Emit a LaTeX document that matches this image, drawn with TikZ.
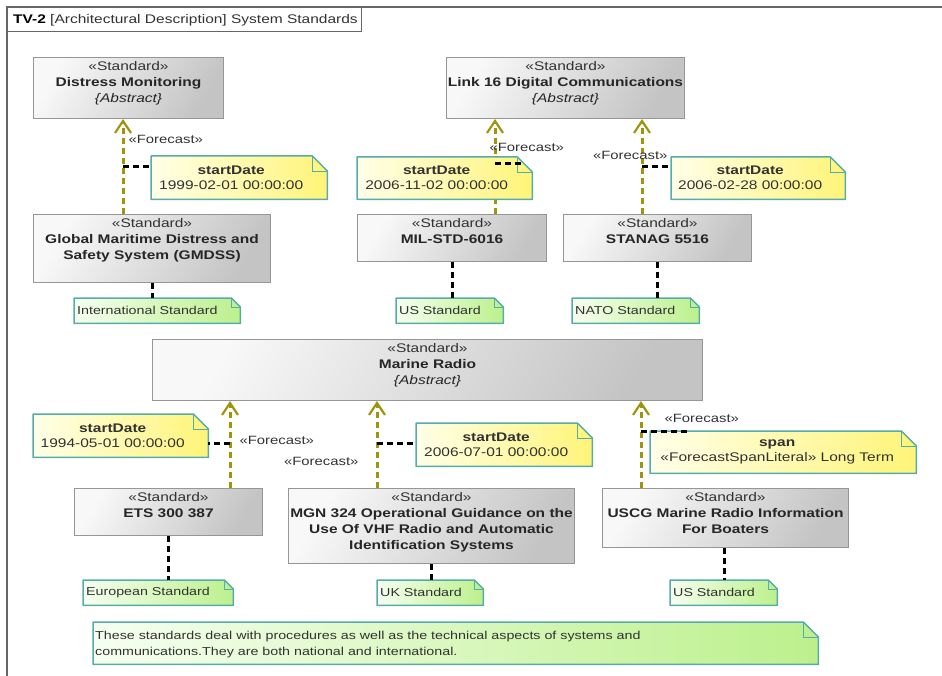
\documentclass[tikz,border=0pt]{standalone}
\usepackage{fontspec}
\setmainfont{Liberation Sans}[FakeStretch=1.24]
\usetikzlibrary{arrows.meta,calc}

\definecolor{olivefc}{RGB}{160,148,10}
\definecolor{tealb}{RGB}{86,172,170}
\definecolor{boxb}{RGB}{150,150,150}
\definecolor{boxl}{RGB}{248,248,248}
\definecolor{boxr}{RGB}{196,196,196}
\definecolor{yell}{RGB}{255,255,232}
\definecolor{yelr}{RGB}{255,244,120}
\definecolor{grnl}{RGB}{246,255,240}
\definecolor{grnr}{RGB}{188,240,140}
\definecolor{txt}{RGB}{50,50,50}

\newcommand\notebody[3]{%
  \shade[#3] (#1.south west) -- (#1.north west) -- ([xshift=-#2pt]#1.north east) -- ([yshift=-#2pt]#1.north east) -- (#1.south east) -- cycle;
  \draw[tealb, line width=1.5pt, line join=round] (#1.south west) -- (#1.north west) -- ([xshift=-#2pt]#1.north east) -- ([yshift=-#2pt]#1.north east) -- (#1.south east) -- cycle;
  \draw[tealb, line width=0.8pt] ([xshift=-#2pt]#1.north east) |- ([yshift=-#2pt]#1.north east);
}
\newcommand\stdst{{\color{txt}«Standard»}}

\tikzset{
  stdbox/.style={draw=boxb, line width=1pt, left color=boxl, right color=boxr, shading angle=60, anchor=north west, inner sep=0pt},
  shapenode/.style={anchor=north west, inner sep=0pt},
  boxtxt/.style={anchor=north, inner sep=0pt, align=center, font=\fontsize{12.5}{16}\selectfont, text=black!85},
  notetxt/.style={inner sep=0pt, align=center, font=\fontsize{12.5}{15}\selectfont, text=txt},
  grntxt/.style={inner sep=0pt, anchor=west, align=left, font=\fontsize{11.5}{16}\selectfont, text=txt},
  fcarrow/.style={draw=olivefc, line width=3pt, dash pattern=on 6pt off 4pt, -{Straight Barb[length=12pt,width=16pt,line width=2.2pt]}},
  fclab/.style={inner sep=1pt, font=\fontsize{12}{14}\selectfont, text=txt},
  blkdash/.style={draw=black, line width=3pt, dash pattern=on 6pt off 4pt},
  yfill/.style={left color=yell, right color=yelr},
  gfill/.style={left color=grnl, right color=grnr},
}

\begin{document}
\begin{tikzpicture}[x=1pt, y=-1pt]
\useasboundingbox (0,0) rectangle (942,676);

% frame
\draw[black!60, line width=1.5pt] (7,676) -- (7,7) -- (942,7);
\draw[black!60, line width=1pt] (7,32) -- (361,32) -- (361,7);
\node[anchor=west, inner sep=0pt, font=\fontsize{12.5}{15}\selectfont, text=txt] (title) at (13,20)
  {\textbf{\color{black}TV-2} [Architectural Description] System Standards};

% standard boxes
\node[stdbox, minimum width=190pt, minimum height=61pt] (dm) at (33,57) {};
\node[stdbox, minimum width=238pt, minimum height=61pt] (l16) at (446,57) {};
\node[stdbox, minimum width=237pt, minimum height=68pt] (gm) at (33,214) {};
\node[stdbox, minimum width=189pt, minimum height=47pt] (mil) at (357,214) {};
\node[stdbox, minimum width=188pt, minimum height=47pt] (stn) at (563,214) {};
\node[stdbox, minimum width=550pt, minimum height=61pt] (mr) at (152,339) {};
\node[stdbox, minimum width=188pt, minimum height=47pt] (ets) at (74,488) {};
\node[stdbox, minimum width=286pt, minimum height=75pt] (mgn) at (288,488) {};
\node[stdbox, minimum width=246pt, minimum height=59pt] (uscg) at (602,488) {};

\node[boxtxt] (dmt) at ([yshift=-4pt]dm.north) {\stdst\\\textbf{Distress Monitoring}\\\textit{\{Abstract\}}};
\node[boxtxt] (l16t) at ([yshift=-4pt]l16.north) {\stdst\\\textbf{Link 16 Digital Communications}\\\textit{\{Abstract\}}};
\node[boxtxt] (gmt) at ([yshift=-4pt]gm.north) {\stdst\\\textbf{Global Maritime Distress and}\\\textbf{Safety System (GMDSS)}};
\node[boxtxt] (milt) at ([yshift=-4pt]mil.north) {\stdst\\\textbf{MIL-STD-6016}};
\node[boxtxt] (stnt) at ([yshift=-4pt]stn.north) {\stdst\\\textbf{STANAG 5516}};
\node[boxtxt] (mrt) at ([yshift=-4pt]mr.north) {\stdst\\\textbf{Marine Radio}\\\textit{\{Abstract\}}};
\node[boxtxt] (etst) at ([yshift=-4pt]ets.north) {\stdst\\\textbf{ETS 300 387}};
\node[boxtxt] (mgnt) at ([yshift=-4pt]mgn.north) {\stdst\\\textbf{MGN 324 Operational Guidance on the}\\\textbf{Use Of VHF Radio and Automatic}\\\textbf{Identification Systems}};
\node[boxtxt] (uscgt) at ([yshift=-4pt]uscg.north) {\stdst\\\textbf{USCG Marine Radio Information}\\\textbf{For Boaters}};

% forecast arrows
\draw[fcarrow] ($(gm.north west)+(90,0)$) -- ($(dm.south west)+(90,0)$)
  node[fclab, pos=0.79, anchor=west, xshift=3pt] (f1) {«Forecast»} coordinate[pos=0.5] (a1n);
\draw[fcarrow] ($(mil.north west)+(138,0)$) -- ($(l16.south west)+(49,0)$)
  node[fclab, pos=0.70, anchor=west, xshift=-8pt] (f2) {«Forecast»} coordinate[pos=0.531] (a2n);
\draw[fcarrow] ($(stn.north west)+(79,0)$) -- ($(l16.south west)+(196,0)$)
  node[fclab, pos=0.615, anchor=east, xshift=28pt] (f3) {«Forecast»} coordinate[pos=0.5] (a3n);
\draw[fcarrow] ($(ets.north west)+(156,0)$) -- ($(mr.south west)+(78,0)$)
  node[fclab, pos=0.545, anchor=west, xshift=7pt] (f4) {«Forecast»} coordinate[pos=0.511] (a4n);
\draw[fcarrow] ($(mgn.north west)+(89,0)$) -- ($(mr.south west)+(225,0)$)
  node[fclab, pos=0.307, anchor=east, xshift=-16pt] (f5) {«Forecast»} coordinate[pos=0.511] (a5n);
\draw[fcarrow] ($(uscg.north west)+(39,0)$) -- ($(mr.south west)+(489,0)$)
  node[fclab, pos=0.795, anchor=west, xshift=21pt] (f6) {«Forecast»} coordinate[pos=0.648] (a6n);

% yellow notes
\node[shapenode, minimum width=176pt, minimum height=43pt] (n1) at (151,156) {};
\node[shapenode, minimum width=175pt, minimum height=42pt] (n2) at (357,157) {};
\node[shapenode, minimum width=174pt, minimum height=42pt] (n3) at (671,157) {};
\node[shapenode, minimum width=175pt, minimum height=43pt] (n4) at (33,414) {};
\node[shapenode, minimum width=176pt, minimum height=43pt] (n5) at (416,423) {};
\node[shapenode, minimum width=266pt, minimum height=42pt] (n6) at (650,431) {};
\notebody{n1}{15}{yfill}
\notebody{n2}{15}{yfill}
\notebody{n3}{15}{yfill}
\notebody{n4}{15}{yfill}
\notebody{n5}{15}{yfill}
\notebody{n6}{15}{yfill}
\node[notetxt] (n1t) at ([xshift=-8pt]n1.center) {\textbf{startDate}\\1999-02-01 00:00:00};
\node[notetxt] (n2t) at ([xshift=-8pt]n2.center) {\textbf{startDate}\\2006-11-02 00:00:00};
\node[notetxt] (n3t) at ([xshift=-8pt]n3.center) {\textbf{startDate}\\2006-02-28 00:00:00};
\node[notetxt] (n4t) at ([xshift=-8pt]n4.center) {\textbf{startDate}\\1994-05-01 00:00:00};
\node[notetxt] (n5t) at ([xshift=-8pt]n5.center) {\textbf{startDate}\\2006-07-01 00:00:00};
\node[notetxt] (n6t) at ([xshift=-6pt]n6.center) {\textbf{span}\\«ForecastSpanLiteral» Long Term};

% green notes
\node[shapenode, minimum width=166pt, minimum height=25pt] (g1) at (74,298) {};
\node[shapenode, minimum width=107pt, minimum height=25pt] (g2) at (396,298) {};
\node[shapenode, minimum width=127pt, minimum height=25pt] (g3) at (572,298) {};
\node[shapenode, minimum width=150pt, minimum height=25pt] (g4) at (83,580) {};
\node[shapenode, minimum width=106pt, minimum height=25pt] (g5) at (377,580) {};
\node[shapenode, minimum width=107pt, minimum height=25pt] (g6) at (670,580) {};
\node[shapenode, minimum width=725pt, minimum height=42pt] (g7) at (93,622) {};
\notebody{g1}{9}{gfill}
\notebody{g2}{9}{gfill}
\notebody{g3}{9}{gfill}
\notebody{g4}{9}{gfill}
\notebody{g5}{9}{gfill}
\notebody{g6}{9}{gfill}
\notebody{g7}{15}{gfill}
\node[grntxt] (g1t) at ([xshift=3pt]g1.west) {International Standard};
\node[grntxt] (g2t) at ([xshift=3pt]g2.west) {US Standard};
\node[grntxt] (g3t) at ([xshift=3pt]g3.west) {NATO Standard};
\node[grntxt] (g4t) at ([xshift=3pt]g4.west) {European Standard};
\node[grntxt] (g5t) at ([xshift=3pt]g5.west) {UK Standard};
\node[grntxt] (g6t) at ([xshift=3pt]g6.west) {US Standard};
\node[grntxt] (g7t) at ([xshift=2pt, yshift=-1pt]g7.west) {These standards deal with procedures as well as the technical aspects of systems and\\communications.They are both national and international.};

% note attachments
\draw[blkdash] (a1n) -- (a1n -| n1.west);
\draw[blkdash] (a2n) -- ($(a2n -| n2.east)+(-9,0)$);
\draw[blkdash] (a3n) -- (a3n -| n3.west);
\draw[blkdash] (a4n) -- (a4n -| n4.east);
\draw[blkdash] (a5n) -- (a5n -| n5.west);
\draw[blkdash] (a6n) -- ($(a6n -| n6.west)+(38,0)$);

\draw[blkdash] ($(gm.south west)+(119,0)$) -- ($(g1.north west)+(78,0)$);
\draw[blkdash] ($(mil.south west)+(95,0)$) -- ($(g2.north west)+(56,0)$);
\draw[blkdash] ($(stn.south west)+(94,0)$) -- ($(g3.north west)+(85,0)$);
\draw[blkdash] ($(ets.south west)+(94,0)$) -- ($(g4.north west)+(85,0)$);
\draw[blkdash] ($(mgn.south west)+(143,0)$) -- ($(g5.north west)+(54,0)$);
\draw[blkdash] ($(uscg.south west)+(122,0)$) -- ($(g6.north west)+(54,0)$);
\end{tikzpicture}
\end{document}
